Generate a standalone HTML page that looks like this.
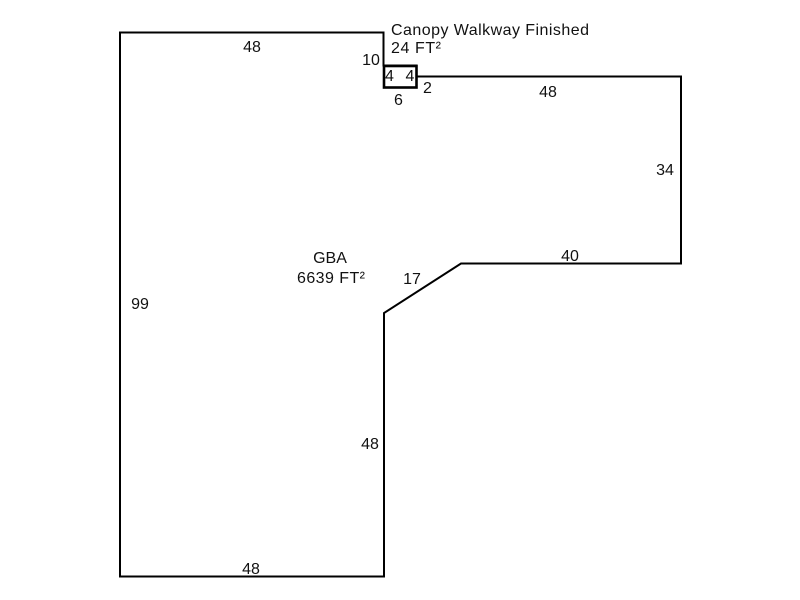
<!DOCTYPE html>
<html><head><meta charset="utf-8"><style>
html,body{margin:0;padding:0;background:#fff}
svg{display:block}
text{font-family:"Liberation Sans",Arial,sans-serif;font-size:16px;fill:#111}
</style></head><body>
<svg width="800" height="600" viewBox="0 0 800 600" xmlns="http://www.w3.org/2000/svg">
<rect width="800" height="600" fill="#fff"/>
<path d="M120 32.5H383.5V65.5H416.5V76.5H681V263.5H461L384 313V576.5H120Z" fill="none" stroke="#000" stroke-width="2"/>
<rect x="384" y="66" width="32.5" height="21.5" fill="none" stroke="#000" stroke-width="2.6"/>
<g text-anchor="middle">
<text x="252" y="52">48</text>
<text x="371" y="65">10</text>
<text x="389.5" y="81">4</text>
<text x="410" y="81">4</text>
<text x="398.5" y="105">6</text>
<text x="427.5" y="93">2</text>
<text x="548" y="97">48</text>
<text x="665" y="175">34</text>
<text x="570" y="261">40</text>
<text x="412" y="284">17</text>
<text x="140" y="309">99</text>
<text x="370" y="449">48</text>
<text x="251" y="574">48</text>
<text x="330" y="263">GBA</text>
</g>
<text x="297" y="283" textLength="68" lengthAdjust="spacing">6639 FT²</text>
<text x="391" y="35" textLength="198" lengthAdjust="spacing">Canopy Walkway Finished</text>
<text x="391" y="53" textLength="50" lengthAdjust="spacing">24 FT²</text>
</svg>
</body></html>
